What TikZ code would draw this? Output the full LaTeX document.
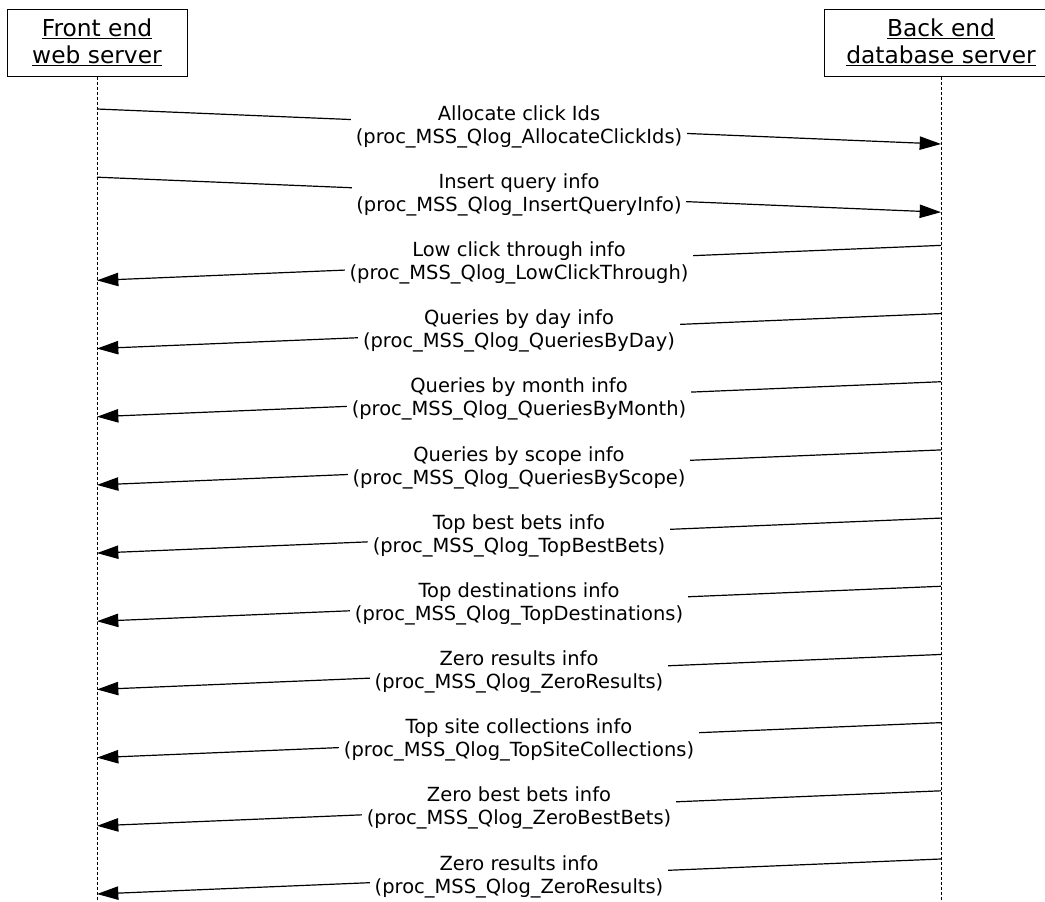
\documentclass[tikz,border=0pt]{standalone}
\usepackage{fontspec}
\setmainfont{DejaVu Sans}
\usetikzlibrary{positioning,arrows.meta,calc}

\tikzset{
  lanehead/.style={draw, line width=0.75pt, fill=white, align=center,
    minimum height=50.25pt, font=\fontsize{17.5}{20.25}\selectfont},
  lifeline/.style={line width=0.75pt, dash pattern=on 2.25pt off 1.5pt},
  msg/.style={line width=0.9pt, -{Triangle[length=16pt,width=10pt]}},
  msglabel/.style={fill=white, align=center, inner xsep=3.5pt, inner ysep=1pt,
    font=\fontsize{14.6}{17.25}\selectfont}
}

\begin{document}
\begin{tikzpicture}[x=0.75pt, y=-0.75pt]
  \useasboundingbox (0,0) rectangle (1045,901);
  % lanes
  \node[lanehead, minimum width=135pt] (fe) at (97,42.5)
    {\underline{Front end}\\\underline{web server}};
  \node[lanehead, minimum width=175.5pt] (be) at (941,42.5)
    {\underline{Back end}\\\underline{database server}};
  \draw[lifeline] (fe.south) -- (fe.south |- 0,901);
  \draw[lifeline] (be.south) -- (be.south |- 0,901);

  % messages
  \foreach \k/\src/\dst/\what/\proc in {
      0/fe/be/Allocate click Ids/AllocateClickIds,
      1/fe/be/Insert query info/InsertQueryInfo,
      2/be/fe/Low click through info/LowClickThrough,
      3/be/fe/Queries by day info/QueriesByDay,
      4/be/fe/Queries by month info/QueriesByMonth,
      5/be/fe/Queries by scope info/QueriesByScope,
      6/be/fe/Top best bets info/TopBestBets,
      7/be/fe/Top destinations info/TopDestinations,
      8/be/fe/Zero results info/ZeroResults,
      9/be/fe/Top site collections info/TopSiteCollections,
      10/be/fe/Zero best bets info/ZeroBestBets,
      11/be/fe/Zero results info/ZeroResults}
  {
    \pgfmathsetmacro\ys{109+68.18*\k}
    \pgfmathsetmacro\ye{\ys+35}
    \coordinate (from\k) at (\src.south |- 0,\ys);
    \coordinate (to\k) at (\dst.south |- 0,\ye);
    \draw[msg] (from\k) -- (to\k)
      node[midway, msglabel] (lbl\k) {\what\\(proc\_MSS\_Qlog\_\proc)};
  }
\end{tikzpicture}
\end{document}
